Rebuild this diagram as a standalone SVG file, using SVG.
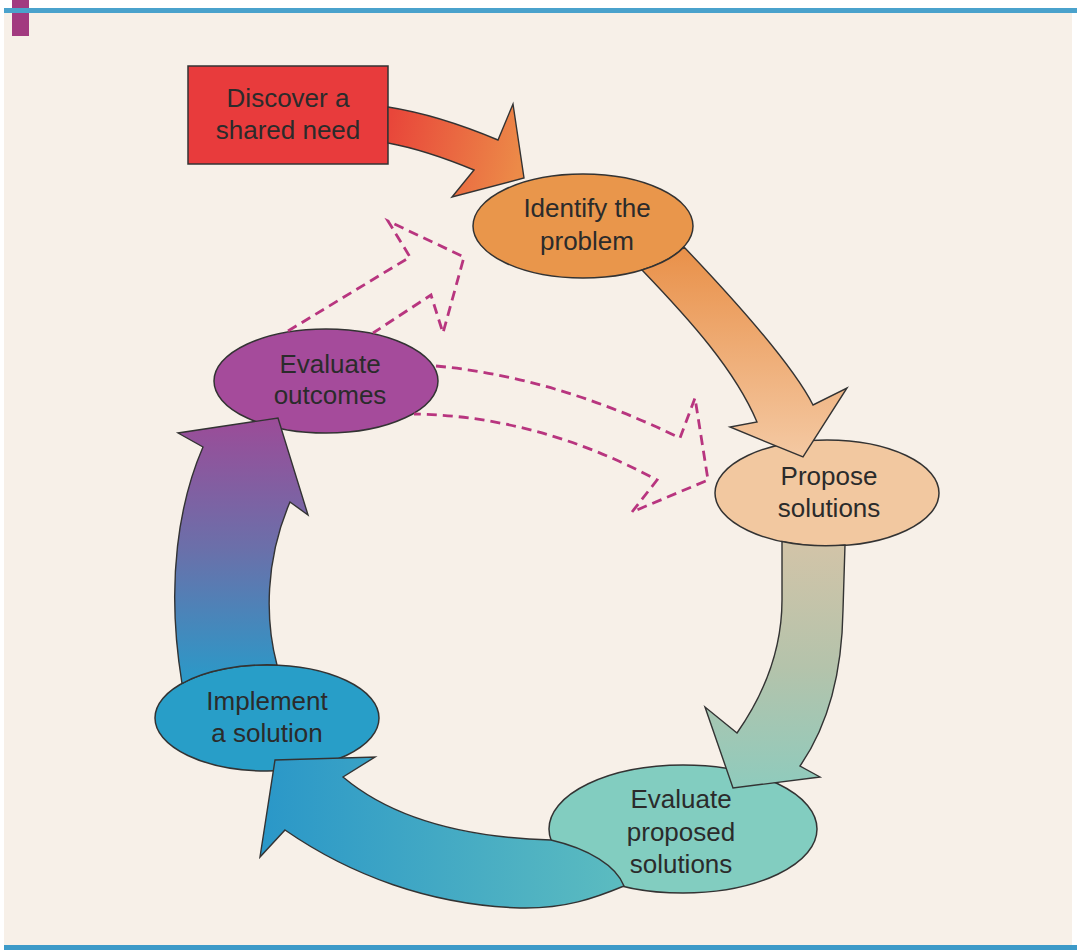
<svg xmlns="http://www.w3.org/2000/svg" width="1077" height="950" viewBox="0 0 1077 950">
<style>
.node{stroke:#333;stroke-width:1.5}
.arrow{stroke:#333;stroke-width:1.4;stroke-linejoin:miter}
.dash{fill:none;stroke:#b8357f;stroke-width:2.8;stroke-dasharray:10 6;stroke-linejoin:miter}
.lbl{font-family:"Liberation Sans",Arial,sans-serif;font-size:26px;fill:#2b2b2b;text-anchor:middle}
</style>
<defs>
<linearGradient id="g1" gradientUnits="userSpaceOnUse" x1="388" y1="130" x2="520" y2="160"><stop offset="0" stop-color="#e8463a"/><stop offset="1" stop-color="#ec8a48"/></linearGradient>
<linearGradient id="g2" gradientUnits="userSpaceOnUse" x1="0" y1="250" x2="0" y2="457"><stop offset="0" stop-color="#e9914a"/><stop offset="1" stop-color="#f4c9a3"/></linearGradient>
<linearGradient id="g3" gradientUnits="userSpaceOnUse" x1="0" y1="545" x2="0" y2="790"><stop offset="0" stop-color="#d2c4a8"/><stop offset="0.5" stop-color="#b4c3ab"/><stop offset="1" stop-color="#8ecbbd"/></linearGradient>
<linearGradient id="g4" gradientUnits="userSpaceOnUse" x1="617" y1="0" x2="260" y2="0"><stop offset="0" stop-color="#5bbbc0"/><stop offset="1" stop-color="#2a97c8"/></linearGradient>
<linearGradient id="g5" gradientUnits="userSpaceOnUse" x1="0" y1="420" x2="0" y2="680"><stop offset="0" stop-color="#9b4c98"/><stop offset="0.5" stop-color="#6a70aa"/><stop offset="1" stop-color="#2b99c8"/></linearGradient>
</defs>
<rect x="0" y="0" width="1077" height="950" fill="#ffffff"/>
<rect x="4" y="12" width="1068" height="934" fill="#f7f0e8"/>
<rect x="12" y="0" width="17" height="36" fill="#a23a80"/>
<rect x="4" y="8" width="1073" height="5" fill="#4aa2cc"/>
<rect x="4" y="945" width="1073" height="5" fill="#3d9ac8"/>

<g id="node-discover">
<rect class="node" x="188" y="66" width="200" height="98" fill="#e83b3c"/>
<text class="lbl" x="288" y="107">Discover a</text>
<text class="lbl" x="288" y="139">shared need</text>
</g>
<g id="node-identify">
<ellipse class="node" cx="583" cy="226" rx="110" ry="52" fill="#e9964b"/>
<text class="lbl" x="587" y="217">Identify the</text>
<text class="lbl" x="587" y="250">problem</text>
</g>
<g id="node-propose">
<ellipse class="node" cx="827" cy="493" rx="112" ry="53" fill="#f2c8a0"/>
<text class="lbl" x="829" y="485">Propose</text>
<text class="lbl" x="829" y="517">solutions</text>
</g>
<g id="node-evaluate-proposed">
<ellipse class="node" cx="683" cy="829" rx="134" ry="64" fill="#82cdc0"/>
<text class="lbl" x="681" y="808">Evaluate</text>
<text class="lbl" x="681" y="841">proposed</text>
<text class="lbl" x="681" y="873">solutions</text>
</g>
<g id="node-implement">
<ellipse class="node" cx="267" cy="718" rx="112" ry="53" fill="#289ec8"/>
<text class="lbl" x="267" y="710">Implement</text>
<text class="lbl" x="267" y="742">a solution</text>
</g>
<g id="node-evaluate-outcomes">
<ellipse class="node" cx="326" cy="381" rx="112" ry="52" fill="#a54b9b"/>
<text class="lbl" x="330" y="373">Evaluate</text>
<text class="lbl" x="330" y="404">outcomes</text>
</g>

<g id="connectors">
<path class="arrow" fill="url(#g1)" d="M388,107 C420,112 460,124 498,140 L513,104 L524,178 L452,197 L474,170 C445,158 415,148 388,143 Z"/>
<path class="arrow" fill="url(#g2)" d="M684,247 C725,290 790,360 813,405 L847,388 L803,457 L730,427 L757,422 C735,370 690,320 642,270 A110 52 0 0 0 684,247 Z"/>
<path class="arrow" fill="url(#g3)" d="M845,545 L843,610 C842,680 825,730 800,766 L820,777 L733,788 L705,707 L737,733 C760,700 782,655 782,600 L782,541.5 A112 53 0 0 0 845,545 Z"/>
<path class="arrow" fill="url(#g4)" d="M551,840 C480,838 400,825 343,777 L375,757 L275,760 L260,857 L285,830 C350,875 430,905 520,908 C565,909 595,898 624,886 A134 64 0 0 0 551,840 Z"/>
<path class="arrow" fill="url(#g5)" d="M277,665 C265,620 265,560 290,502 L308,515 L278,418 L178,433 L203,447 C180,500 165,580 182,683.5 A112 53 0 0 1 277,665 Z"/>
<path class="dash" d="M288,331 L410,257 L388,221 L464,257 L443,333 L431,295 L373,333"/>
<path class="dash" d="M436,366 Q555,377 680,438 L695,398 L708,480 L632,512 L657,480 Q538,416 414,414"/>
</g>
</svg>
